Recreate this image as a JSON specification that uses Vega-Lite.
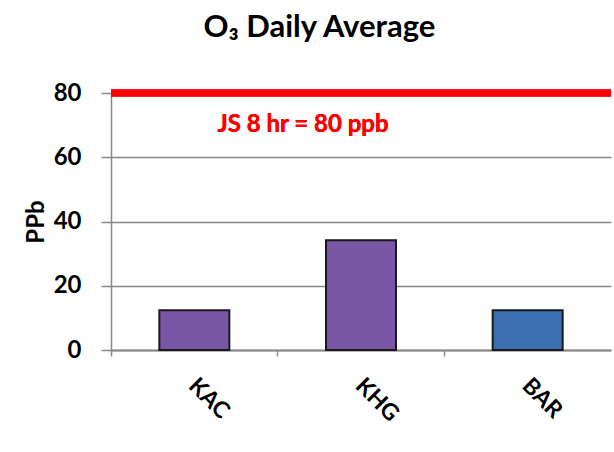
{
  "$schema": "https://vega.github.io/schema/vega-lite/v6.json",
  "width": 500,
  "height": 257,
  "padding": {"left": 24, "top": 12, "right": 4, "bottom": 0},
  "background": "white",
  "title": {
    "text": "O₃ Daily Average",
    "font": "Lato",
    "fontSize": 31,
    "fontWeight": "bold",
    "color": "black",
    "offset": 37,
    "anchor": "middle",
    "frame": "bounds"
  },
  "config": {
    "view": {"stroke": null},
    "font": "Lato"
  },
  "data": {
    "values": [
      {"station": "KAC", "ppb": 12.4},
      {"station": "KHG", "ppb": 34.2},
      {"station": "BAR", "ppb": 12.4}
    ]
  },
  "layer": [
    {
      "mark": {"type": "bar", "stroke": "#1a1a1a", "strokeWidth": 2, "width": {"band": 0.42}},
      "encoding": {
        "x": {
          "field": "station",
          "type": "nominal",
          "sort": ["KAC", "KHG", "BAR"],
          "scale": {"paddingInner": 0, "paddingOuter": 0},
          "axis": {
            "title": null,
            "labelAngle": 45,
            "labelAlign": "left",
            "labelBaseline": "top",
            "labelFontSize": 23,
            "labelFontWeight": "bold",
            "labelColor": "black",
            "labelPadding": 18,
            "labelOffset": 6,
            "bandPosition": 0,
            "tickSize": 6,
            "tickColor": "#888888",
            "domainColor": "#888888",
            "domainWidth": 2,
            "tickWidth": 1.5
          }
        },
        "y": {
          "field": "ppb",
          "type": "quantitative",
          "scale": {"domain": [0, 80], "nice": false},
          "axis": {
            "title": "PPb",
            "titleFontSize": 24,
            "titleFontWeight": "bold",
            "titleColor": "black",
            "titlePadding": 5,
            "values": [0, 20, 40, 60, 80],
            "labelFontSize": 24,
            "labelFontWeight": "bold",
            "labelColor": "black",
            "labelPadding": 20,
            "tickSize": 10,
            "tickColor": "#888888",
            "domainColor": "#888888",
            "domainWidth": 1.5,
            "gridColor": "#888888",
            "gridWidth": 1.5,
            "tickWidth": 1.5
          }
        },
        "color": {
          "field": "station",
          "type": "nominal",
          "scale": {"domain": ["KAC", "KHG", "BAR"], "range": ["#7a56a6", "#7a56a6", "#3a6fb2"]},
          "legend": null
        }
      }
    },
    {
      "mark": {"type": "rule", "color": "#ff0000", "strokeWidth": 7},
      "encoding": {"y": {"datum": 80}}
    },
    {
      "mark": {"type": "text", "text": "JS 8 hr = 80 ppb", "color": "#ff0000", "fontSize": 24, "fontWeight": "bold", "font": "Lato", "dx": -58},
      "encoding": {
        "x": {"datum": "KHG", "type": "nominal"},
        "y": {"datum": 70}
      }
    }
  ]
}
